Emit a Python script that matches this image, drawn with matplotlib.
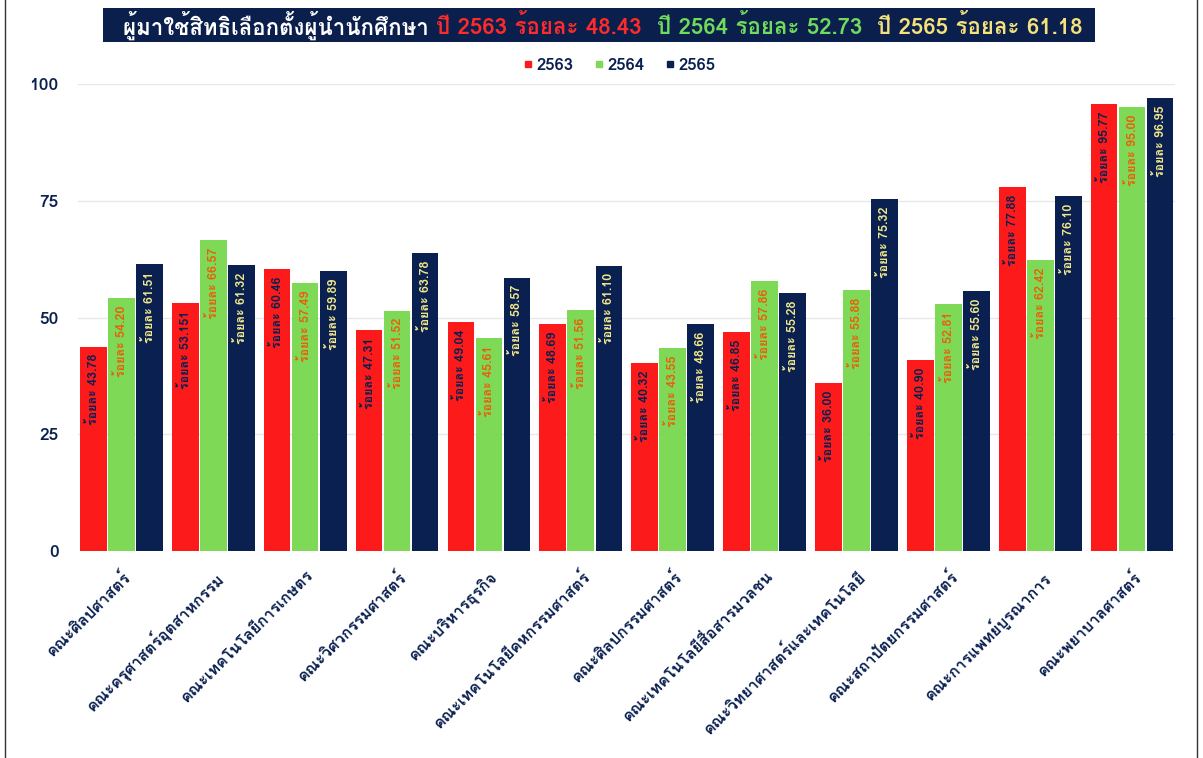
import numpy as np
import matplotlib
matplotlib.use("Agg")
import matplotlib.pyplot as plt
from matplotlib import font_manager
from matplotlib.lines import Line2D
from matplotlib.patches import Rectangle

# Data
faculties = [
    "คณะศิลปศาสตร์",
    "คณะครุศาสตร์อุตสาหกรรม",
    "คณะเทคโนโลยีการเกษตร",
    "คณะวิศวกรรมศาสตร์",
    "คณะบริหารธุรกิจ",
    "คณะเทคโนโลยีคหกรรมศาสตร์",
    "คณะศิลปกรรมศาสตร์",
    "คณะเทคโนโลยีสื่อสารมวลชน",
    "คณะวิทยาศาสตร์และเทคโนโลยี",
    "คณะสถาปัตยกรรมศาสตร์",
    "คณะการแพทย์บูรณาการ",
    "คณะพยาบาลศาสตร์",
]
years = ["2563", "2564", "2565"]
y2563 = [43.78, 53.151, 60.46, 47.31, 49.04, 48.69, 40.32, 46.85, 36.00, 40.90, 77.88, 95.77]
y2564 = [54.20, 66.57, 57.49, 51.52, 45.61, 51.56, 43.55, 57.86, 55.88, 52.81, 62.42, 95.00]
y2565 = [61.51, 61.32, 59.89, 63.78, 58.57, 61.10, 48.66, 55.28, 75.32, 55.60, 76.10, 96.95]
overall = [48.43, 52.73, 61.18]
yticks = [0, 25, 50, 75, 100]

RED = "#fd1a1a"
GREEN = "#7ed957"
NAVY = "#0a2050"
YELLOW = "#f3e98a"
ORANGE = "#e8600a"


def find_thai_font():
    # pick any installed family that actually has Thai glyphs
    try:
        from fontTools.ttLib import TTFont
    except ImportError:
        return None
    for f in font_manager.fontManager.ttflist:
        try:
            tt = TTFont(f.fname, fontNumber=0, lazy=True)
            cmap = tt.getBestCmap()
            if cmap and 0x0E01 in cmap:
                return f.name
        except Exception:
            continue
    return None


thai = find_thai_font()
families = ([thai] if thai else []) + ["DejaVu Sans"]
plt.rcParams["font.family"] = families


def fmt(v):
    return "%.2f" % v if round(v, 2) == v else str(v)


fig = plt.figure(figsize=(12.03, 7.58), dpi=100)
ax = fig.add_axes([0.065, 0.273, 0.912, 0.616])

x = np.arange(len(faculties))
w = 0.29
off = 0.305
series = [(y2563, RED, NAVY), (y2564, GREEN, ORANGE), (y2565, NAVY, YELLOW)]
for i, (vals, col, tcol) in enumerate(series):
    xs = x + (i - 1) * off
    ax.bar(xs, vals, width=w, color=col, zorder=3)
    for xi, v in zip(xs, vals):
        ax.text(xi, v - 1.6, "ร้อยละ " + fmt(v), rotation=90, ha="center", va="top",
                fontsize=9, fontweight="bold", color=tcol, zorder=4)

ax.set_xlim(-0.47, len(faculties) - 0.53)
ax.set_ylim(0, 100)
ax.set_yticks(yticks)
ax.set_yticklabels([str(t) for t in yticks], fontsize=12.5, fontweight="bold", color=NAVY)
ax.set_xticks(x)
ax.set_xticklabels(faculties, rotation=45, ha="right", rotation_mode="anchor",
                   fontsize=11.5, fontweight="bold", color=NAVY)
ax.tick_params(axis="x", length=0, pad=12)
ax.tick_params(axis="y", length=0, pad=14)
ax.grid(axis="y", color="#e8e8e8", linewidth=1, zorder=0)
for s in ax.spines.values():
    s.set_visible(False)

# legend
handles = [Line2D([], [], marker="s", linestyle="none", markersize=4, color=c)
           for c in (RED, GREEN, NAVY)]
leg = fig.legend(handles, years, loc="center", bbox_to_anchor=(0.515, 0.914), ncol=3,
                 frameon=False, handlelength=0.5, handletextpad=0.25, columnspacing=1.3,
                 prop={"size": 12, "weight": "bold"})
for t in leg.get_texts():
    t.set_color(NAVY)

# title banner with multicolour text
fig.patches.append(Rectangle((0.086, 0.944), 0.824, 0.045, transform=fig.transFigure,
                             facecolor="#0b1f4d", edgecolor="none", zorder=1))
parts = [
    ("ผู้มาใช้สิทธิเลือกตั้งผู้นำนักศึกษา ", "white"),
    ("ปี %s ร้อยละ %.2f  " % (years[0], overall[0]), "#ff2a2a"),
    ("ปี %s ร้อยละ %.2f  " % (years[1], overall[1]), "#6fdc5a"),
    ("ปี %s ร้อยละ %.2f" % (years[2], overall[2]), "#f5e27a"),
]
renderer = fig.canvas.get_renderer()
texts = [fig.text(0, 0.966, s, color=c, fontsize=16, fontweight="bold", va="center", zorder=2)
         for s, c in parts]
widths = [t.get_window_extent(renderer).width / fig.bbox.width for t in texts]
cur = 0.501 - sum(widths) / 2
for t, wd in zip(texts, widths):
    t.set_x(cur)
    cur += wd

# thin frame lines at the image sides
for xf in (0.004, 0.995):
    fig.add_artist(Line2D([xf, xf], [0, 1], transform=fig.transFigure, color="#333333", linewidth=1))

fig.savefig("out.png", dpi=100)
